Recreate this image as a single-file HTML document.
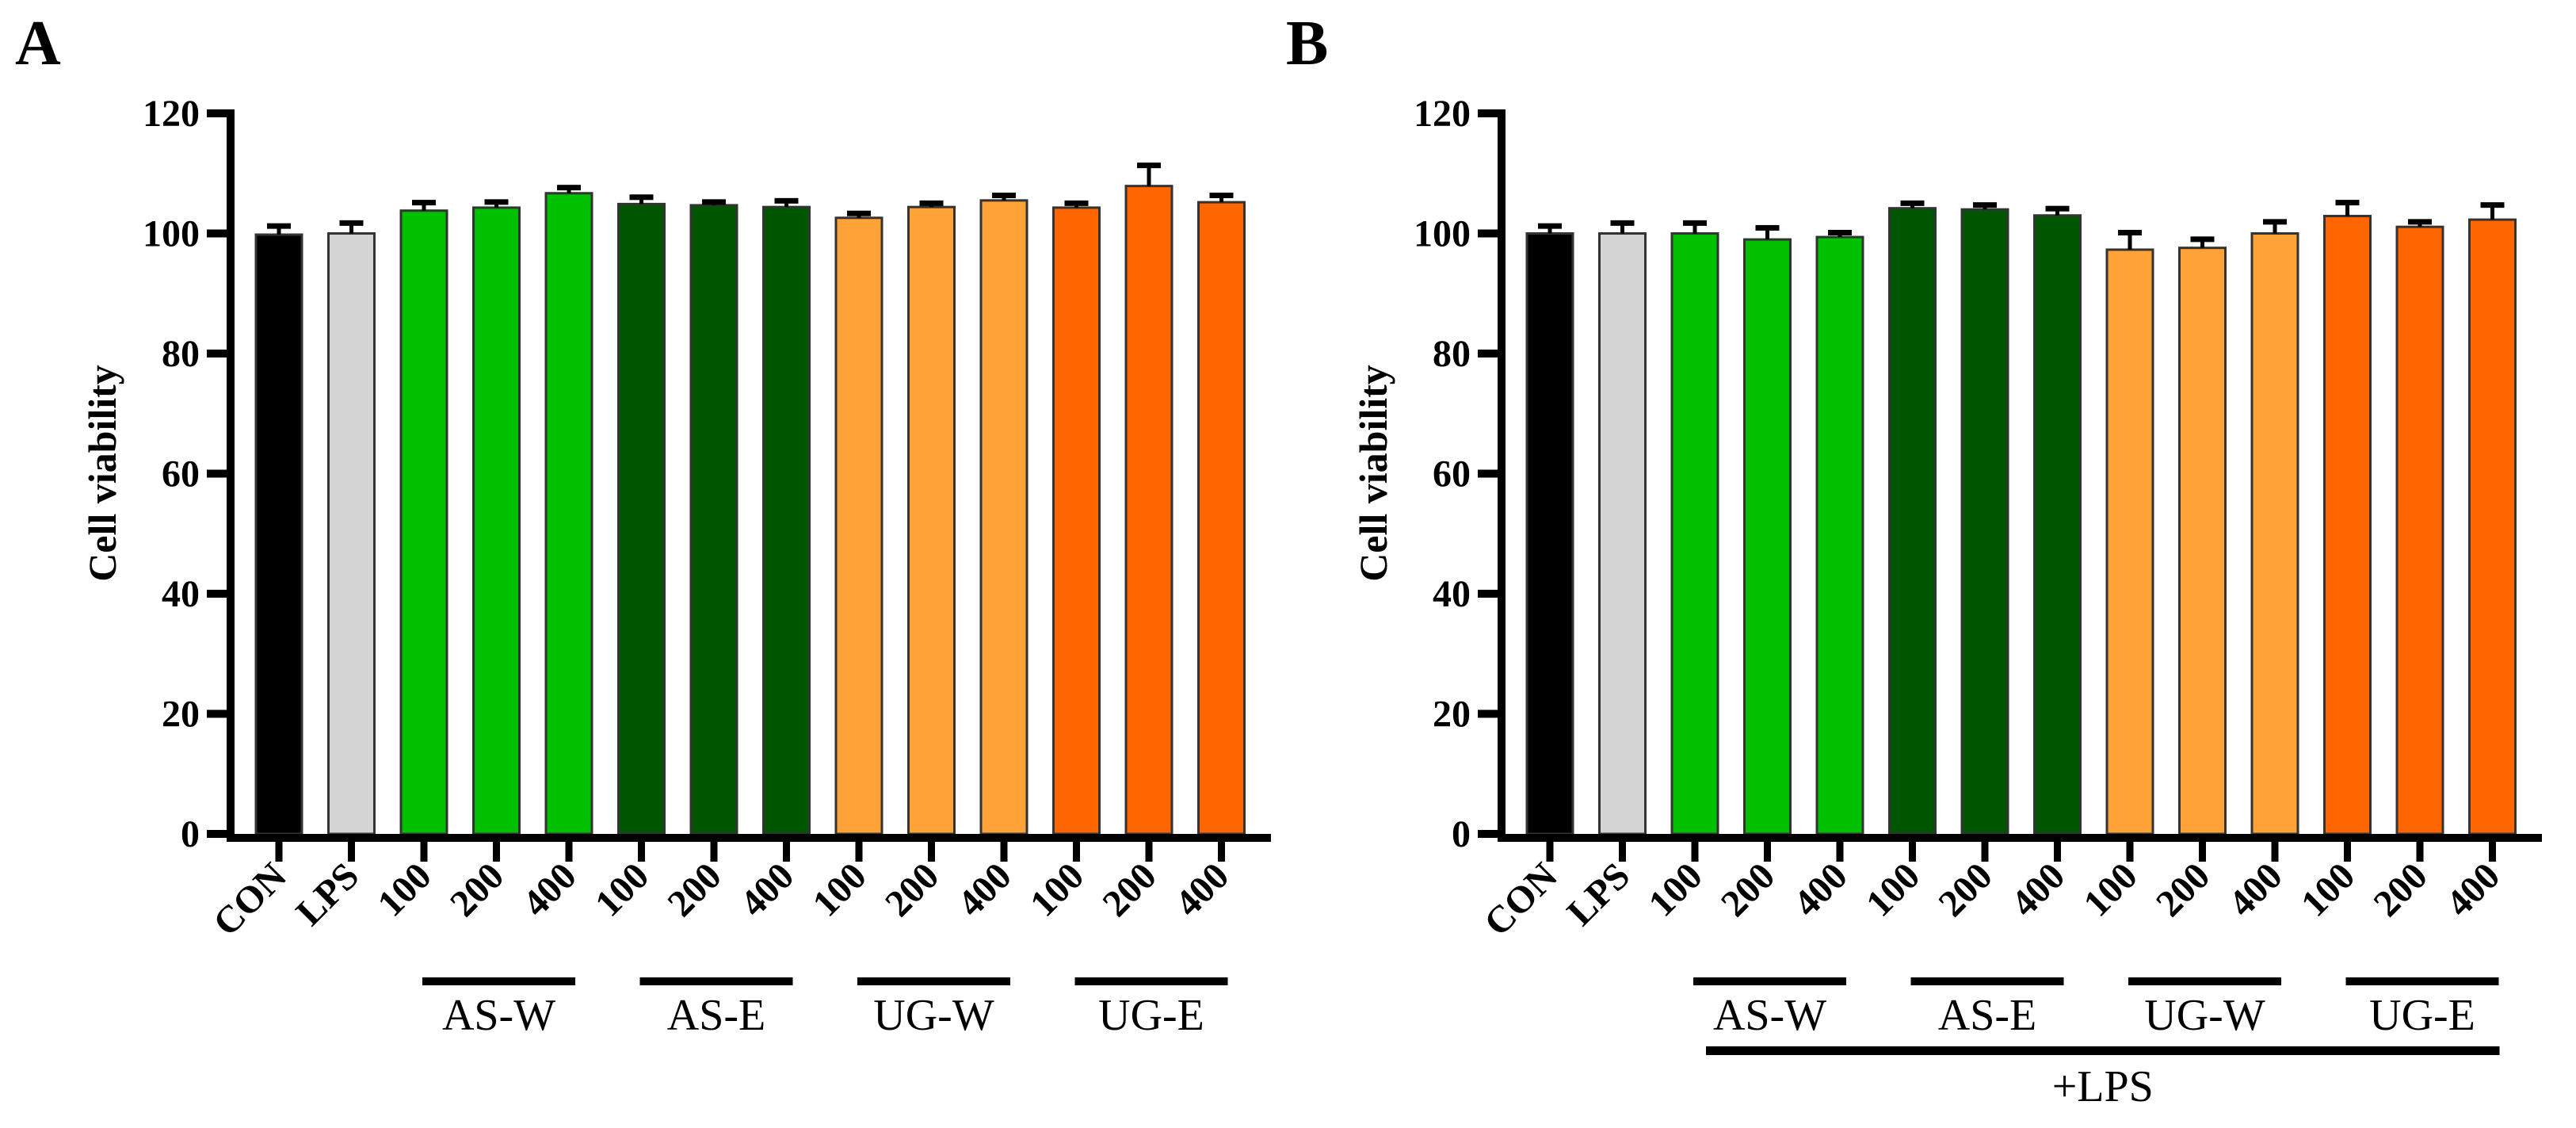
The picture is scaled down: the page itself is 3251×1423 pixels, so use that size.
<!DOCTYPE html>
<html><head><meta charset="utf-8"><style>
html,body{margin:0;padding:0;background:#fff;}
svg{display:block;font-family:"Liberation Serif",serif;}
</style></head><body>
<svg id="fig" width="3251" height="1423" viewBox="0 0 3251 1423" xmlns="http://www.w3.org/2000/svg"></svg>
<script>
const categories = ["CON","LPS","100","200","400","100","200","400","100","200","400","100","200","400"];
const colors = ["#000000","#d4d4d4","#00c000","#00c000","#00c000","#005500","#005500","#005500","#ffa338","#ffa338","#ffa338","#ff6600","#ff6600","#ff6600"];
const valuesA = [99.8,100.0,103.8,104.3,106.7,104.9,104.7,104.4,102.6,104.4,105.5,104.3,107.9,105.2];
const errorsA = [1.5,1.8,1.4,1.0,1.0,1.2,0.6,1.1,0.8,0.7,0.9,0.8,3.5,1.2];
const valuesB = [100.0,100.0,100.0,99.0,99.4,104.2,104.0,103.0,97.3,97.6,100.0,102.9,101.1,102.3];
const errorsB = [1.3,1.8,1.8,2.0,0.8,0.9,0.8,1.2,2.9,1.5,2.0,2.3,0.9,2.5];
const yTicks = [0,20,40,60,80,100,120];
const groups = ["AS-W","AS-E","UG-W","UG-E"];
const svg = document.getElementById('fig');
const NS = "http://www.w3.org/2000/svg";
function mk(tag, attrs, parent){const e=document.createElementNS(NS,tag);for(const k in attrs)e.setAttribute(k,attrs[k]);(parent||svg).appendChild(e);return e;}
const y0=1052, yMax=143, vMax=120;
function yS(v){return y0-(v/vMax)*(y0-yMax);}
function drawPanel(ox, vals, errs, letter, lps){
  const g=mk('g',{});
  
  
  const xS=i=>ox+352+i*91.5;
  const L=mk('text',{x:ox+19,y:81,'font-size':80,'font-weight':'bold'},g);L.textContent=letter;
  
  
  vals.forEach((v,i)=>{
    const cx=xS(i), top=yS(v), et=yS(v+errs[i]);
    const b=mk('rect',{x:cx-29,y:top,width:58,height:y0-top,fill:colors[i],stroke:'#333',"stroke-width":3},g);
    
    
    const e=mk('path',{d:`M${cx} ${top} V${et} M${cx-15} ${et} H${cx+15}`,stroke:'#000','stroke-width':5,fill:'none'},g);
    
    
    mk('rect',{x:cx-15,y:et-3,width:30,height:7,fill:'#000'},g);
    mk('line',{x1:cx,x2:cx,y1:y0,y2:1087,stroke:'#000','stroke-width':9},g);
    const tl=mk('text',{x:0,y:0,'font-size':48,'font-weight':'bold','text-anchor':'end',transform:`translate(${cx+12},${1108}) rotate(-45)`},g);
    tl.textContent=categories[i];
    
    
  });
  mk('line',{x1:ox+291,x2:ox+291,y1:yMax-5,y2:y0+10,stroke:'#000','stroke-width':10},g);
  mk('line',{x1:ox+286,x2:ox+1604,y1:y0+5,y2:y0+5,stroke:'#000','stroke-width':10},g);
  yTicks.forEach(t=>{
    const y=yS(t);
    mk('line',{x1:ox+261,x2:ox+291,y1:y,y2:y,stroke:'#000','stroke-width':10},g);
    const tx=mk('text',{x:ox+252,y:y+16,'font-size':48,'font-weight':'bold','text-anchor':'end'},g);
    tx.textContent=t;
    
    
  });
  const yt=mk('text',{x:0,y:0,'font-size':50,'font-weight':'bold','text-anchor':'middle',transform:`translate(${ox+146},${597}) rotate(-90)`},g);
  yt.textContent='Cell viability';
  
  
  groups.forEach((gn,k)=>{
    const x1=xS(2+3*k)-2, x2=xS(4+3*k)+8;
    mk('rect',{x:x1,y:1233,width:x2-x1,height:10,fill:'#000'},g);
    const gt=mk('text',{x:(x1+x2)/2,y:1299,'font-size':56,'text-anchor':'middle'},g);
    gt.textContent=gn;
    
    
  });
  if(lps){
    const x1=xS(2)+14, x2=xS(13)+9;
    mk('rect',{x:x1,y:1320,width:x2-x1,height:11,fill:'#000'},g);
    const lt=mk('text',{x:(x1+x2)/2,y:1389,'font-size':56,'text-anchor':'middle'},g);
    lt.textContent='+LPS';
    
    
  }
}
drawPanel(0, valuesA, errorsA, 'A', false);
drawPanel(1604, valuesB, errorsB, 'B', true);
</script>
</body></html>
